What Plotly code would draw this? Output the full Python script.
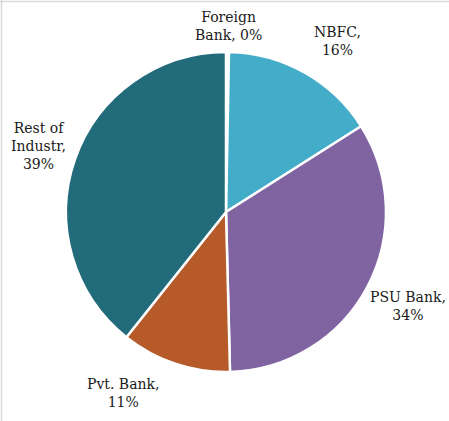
import plotly.graph_objects as go

categories = ["Foreign Bank", "NBFC", "PSU Bank", "Pvt. Bank", "Rest of Industr"]
values = [0.3, 15.7, 33.6, 11.1, 39.3]
colors = ["#FFFFFF", "#43ADC9", "#8064A2", "#B65A2A", "#216B7B"]

# label line layout (how each label is broken), and label placement (px)
label_lines = ["Foreign<br>Bank, {p}", "NBFC,<br>{p}", "PSU Bank,<br>{p}", "Pvt. Bank,<br>{p}", "Rest of<br>Industr,<br>{p}"]
label_pos = [(228, 26), (337, 41), (408, 306), (123, 393), (38, 146)]

W, H = 449, 421
total = sum(values)
FONT = "DejaVu Serif"

fig = go.Figure()
fig.add_trace(go.Pie(
    labels=categories,
    values=values,
    sort=False,
    direction="clockwise",
    rotation=0,
    marker=dict(colors=colors, line=dict(color="white", width=2.5)),
    textinfo="none",
    hoverinfo="label+percent",
    showlegend=False,
    domain=dict(x=[(226 - 160) / W, (226 + 160) / W], y=[1 - 372 / H, 1 - 52 / H]),
))

annotations = []
for lab, v, (px, py) in zip(label_lines, values, label_pos):
    pct = f"{round(v / total * 100):.0f}%"
    annotations.append(dict(
        x=px / W, y=1 - py / H, xref="paper", yref="paper",
        text=lab.format(p=pct), showarrow=False,
        xanchor="center", yanchor="middle", align="center",
        font=dict(family=FONT, size=14, color="#1a1a1a"),
    ))

shapes = [
    dict(type="line", xref="paper", yref="paper", x0=0, x1=1, y0=1 - 1.5 / H, y1=1 - 1.5 / H,
         line=dict(color="#D9D9D9", width=1.5)),
    dict(type="line", xref="paper", yref="paper", x0=1.5 / W, x1=1.5 / W, y0=0, y1=1,
         line=dict(color="#D9D9D9", width=1.5)),
]

fig.update_layout(
    width=W, height=H,
    margin=dict(l=0, r=0, t=0, b=0),
    paper_bgcolor="white", plot_bgcolor="white",
    font=dict(family=FONT),
    annotations=annotations, shapes=shapes,
)

fig.write_html("out.html")
